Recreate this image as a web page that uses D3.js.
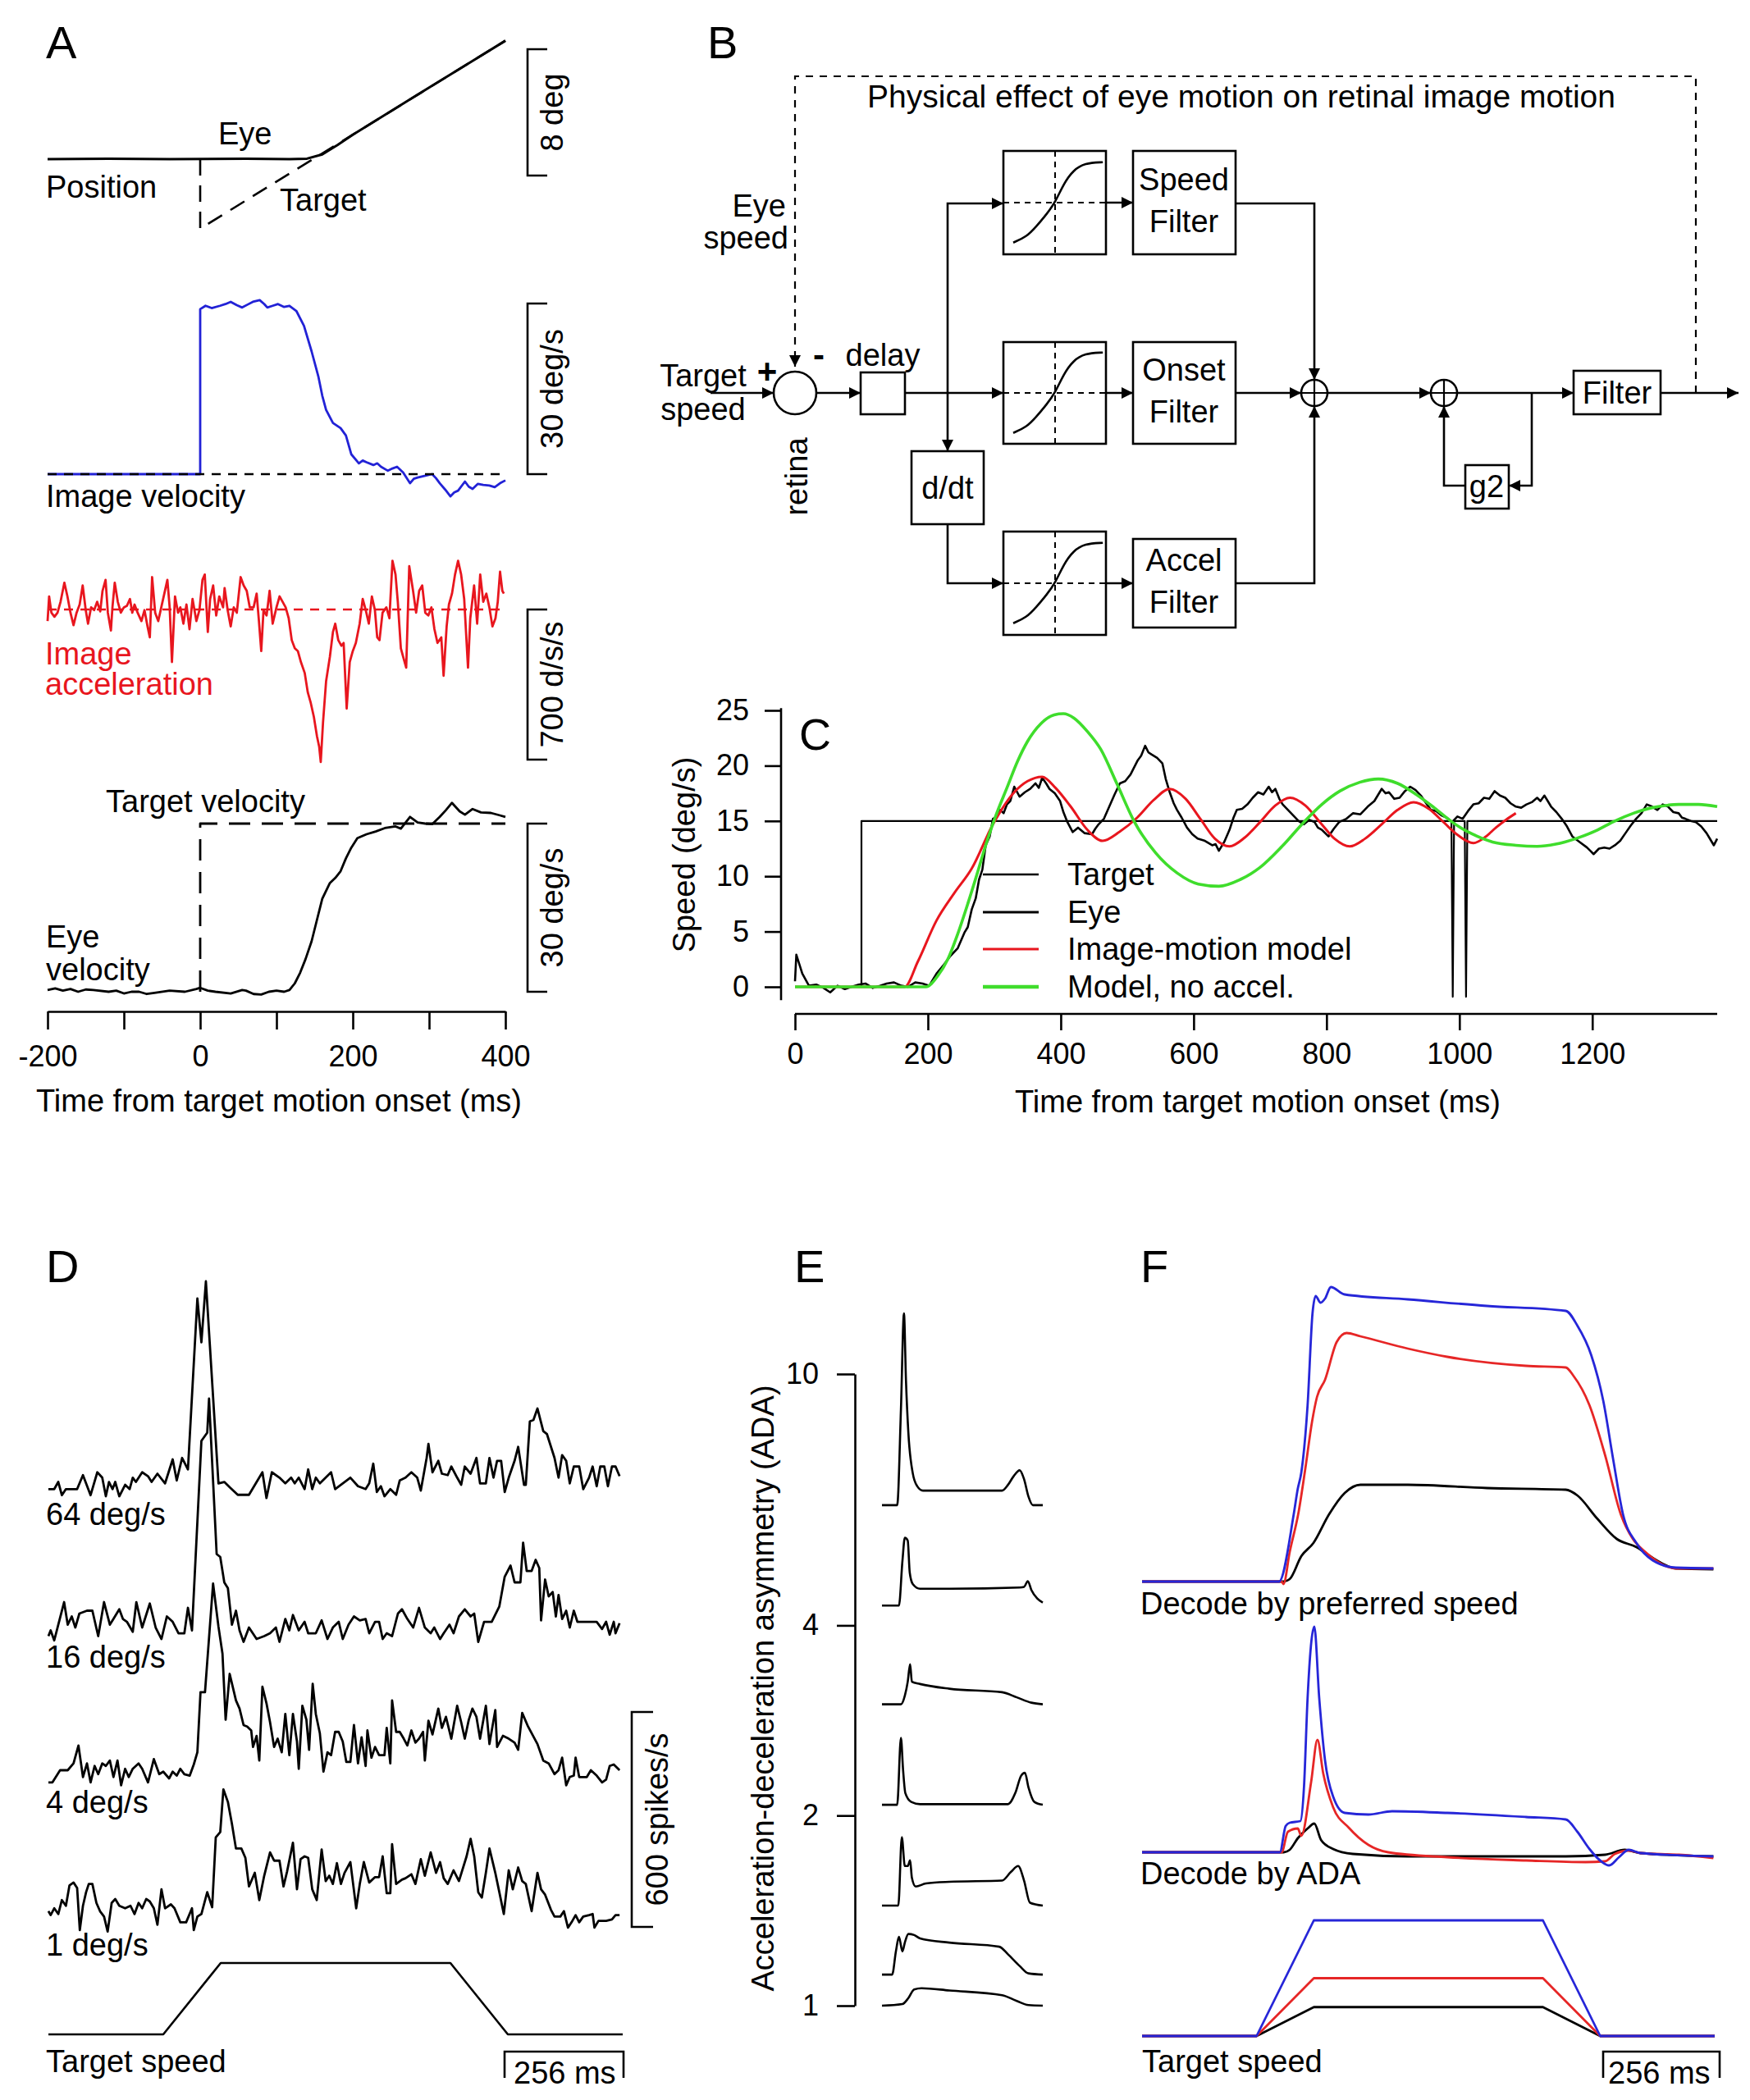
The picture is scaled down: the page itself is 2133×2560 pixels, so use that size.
<!DOCTYPE html>
<html><head><meta charset="utf-8">
<script src="https://cdn.jsdelivr.net/npm/d3@7"></script>
<style>
body{margin:0;background:#fff}
text{font-family:"Liberation Sans",Arial,Helvetica,sans-serif;fill:#000}
</style>
</head><body>
<script>
// ================= DATA =================
// Panel A (time in ms from target motion onset)
const aTicks = [-200,-100,0,100,200,300,400];
const aTickLabels = [-200,0,200,400];
const targetPosition = [[0,0],[0,-4.4],[400,7.5]];              // deg
const eyePosition = [[-200,0],[-120,0.03],[-40,0],[60,0.02],[117,0],[140,0.03],[160,0.3],[180,0.9],[200,1.55],[250,3.04],[300,4.53],[350,6.01],[400,7.5]];
const imageVelocity = [[-200,0],[0,0],[0,29.0],[7,29.6],[15,29.2],[26,29.6],[33,29.9],[40,30.3],[48,29.7],[55,29.3],[62,29.8],[69,30.3],[78,30.6],[84,29.9],[88,29.3],[95,29.6],[102,29.9],[110,29.4],[117,29.6],[126,28.7],[136,26.1],[146,21.6],[155,17.1],[160,13.8],[165,11.3],[174,9.0],[184,8.1],[191,6.8],[198,3.5],[208,1.9],[213,2.4],[218,2.1],[227,1.6],[232,1.9],[237,1.3],[246,0.6],[252,1.0],[258,1.3],[266,0.3],[275,-1.6],[280,-0.8],[285,-0.6],[294,-0.3],[304,0],[309,-0.7],[314,-1.6],[321,-2.7],[328,-3.9],[333,-3.2],[338,-2.9],[347,-1.3],[352,-2.2],[357,-2.6],[364,-1.7],[371,-1.9],[379,-2.0],[386,-2.3],[393,-1.6],[400,-1.1]];
const imageAcceleration = [[-200,-54],[-198,61],[-195,-15],[-191,-34],[-187,-15],[-183,36],[-178,125],[-174,61],[-170,-15],[-166,-73],[-162,-15],[-158,23],[-154,112],[-150,-3],[-147,-66],[-143,10],[-139,-3],[-135,36],[-131,-9],[-128,87],[-124,138],[-121,-15],[-117,-98],[-115,10],[-112,125],[-108,36],[-104,-15],[-100,10],[-96,17],[-92,49],[-89,-15],[-86,23],[-82,-15],[-77,-54],[-73,-3],[-69,-79],[-66,-130],[-63,151],[-59,-15],[-55,-54],[-51,10],[-47,74],[-43,138],[-40,10],[-37,-245],[-33,61],[-29,-15],[-26,10],[-22,-66],[-18,23],[-14,-92],[-10,49],[-5,-54],[-1,-3],[3,138],[6,163],[10,-105],[13,49],[17,112],[21,-28],[25,61],[30,10],[32,100],[36,-3],[40,-79],[44,10],[48,-15],[53,151],[57,112],[61,87],[65,10],[70,10],[74,74],[77,-54],[80,-194],[83,-3],[87,-28],[91,87],[95,-66],[100,10],[104,61],[108,36],[112,10],[116,-41],[120,-143],[124,-181],[128,-194],[132,-245],[137,-296],[141,-386],[145,-437],[149,-501],[153,-590],[156,-641],[158,-711],[161,-526],[165,-335],[170,-220],[174,-105],[177,-66],[181,-143],[185,-169],[188,-156],[192,-462],[196,-245],[200,-194],[204,-156],[209,-66],[213,49],[217,-3],[221,-66],[225,61],[229,-3],[232,-130],[235,-143],[239,-15],[244,10],[248,-41],[252,227],[256,163],[259,36],[263,-181],[266,-220],[270,-271],[274,202],[279,87],[283,-15],[287,87],[291,112],[295,-15],[299,-28],[303,10],[307,-92],[311,-156],[316,-130],[319,-309],[323,-79],[326,23],[330,74],[334,163],[338,227],[342,163],[346,49],[351,-271],[354,-41],[359,112],[363,-66],[367,163],[371,36],[375,74],[379,10],[383,-79],[387,-41],[390,36],[393,176],[396,87],[398,74]];
const targetVelocityA = [[0,0],[0,30],[400,30]];
const eyeVelocityA = [[-200,0.3],[-190,0.6],[-180,0.2],[-170,0.5],[-160,0],[-150,0.4],[-140,0.3],[-120,0],[-110,0.2],[-100,-0.3],[-90,0],[-80,0],[-70,-0.4],[-60,-0.2],[-40,0.2],[-20,0],[-5,0.5],[0,0.7],[10,0.2],[20,0],[40,-0.3],[55,0.3],[60,0.2],[70,-0.4],[80,-0.5],[90,0],[100,0.2],[110,0],[117,0.3],[124,1.5],[131,3.4],[138,5.8],[146,9.0],[153,12.8],[160,16.6],[170,19.4],[177,20.3],[184,21.5],[191,23.8],[198,25.7],[206,27.4],[218,28.1],[230,28.6],[242,29.2],[256,29.5],[263,29.1],[275,31.2],[285,30.2],[295,30.0],[304,29.9],[314,31.2],[322,32.4],[330,33.7],[340,32.2],[347,31.6],[357,32.6],[368,32.0],[381,31.9],[392,31.5],[400,31.2]];

// Panel C
const cXTicks = [0,200,400,600,800,1000,1200];
const cYTicks = [0,5,10,15,20,25];
const targetSpeedC = [[0,0],[100,0],[100,15],[988,15],[990,-0.9],[992,15],[1008,15],[1010,-0.9],[1012,15],[1388,15]];
const eyeSpeedC = [[0,0.5],[2,2.9],[11,1.2],[21,0.1],[32,0.2],[43,-0.1],[53,-0.5],[64,0.1],[75,-0.2],[85,0],[96,0.2],[106,0.3],[117,-0.1],[128,0.1],[138,0.3],[149,0.4],[160,0.1],[170,0],[181,0.4],[192,0.3],[202,0.1],[213,1.2],[224,2.0],[234,2.8],[245,3.5],[255,4.9],[260,5.4],[266,7.0],[272,8.0],[277,9.7],[282,10.6],[287,12.8],[293,13.6],[298,15.2],[304,15.4],[309,16.0],[314,15.7],[319,16.5],[324,16.8],[330,18.1],[338,17.2],[346,17.6],[354,17.9],[362,18.4],[367,18.0],[372,18.9],[378,18.4],[383,17.9],[391,17.5],[399,16.8],[404,15.8],[410,14.9],[418,14.0],[426,14.4],[436,13.9],[447,13.8],[452,14.3],[457,14.7],[465,15.2],[473,16.3],[481,17.4],[489,18.4],[497,18.6],[505,19.2],[510,19.8],[516,20.5],[521,20.9],[527,21.8],[532,21.2],[537,21.0],[545,20.7],[553,20.2],[558,18.8],[564,17.6],[570,16.6],[575,16.0],[582,15.3],[590,14.4],[598,13.8],[606,13.4],[617,13.2],[628,12.8],[633,12.9],[638,12.3],[646,13.1],[654,14.2],[660,15.3],[665,16.0],[673,16.1],[681,16.5],[689,17.1],[697,17.6],[705,17.4],[713,18.1],[718,17.6],[723,17.9],[729,17.0],[734,16.5],[742,16.0],[750,15.5],[758,15.0],[766,14.7],[774,15.1],[782,14.9],[787,14.4],[793,14.2],[798,13.9],[803,13.6],[811,14.3],[819,14.9],[830,15.2],[840,15.7],[851,15.6],[862,16.3],[872,16.8],[883,17.9],[889,17.5],[894,17.6],[902,17.0],[910,17.1],[918,17.7],[926,18.1],[934,17.8],[942,17.3],[950,16.6],[957,16.0],[965,15.9],[973,15.5],[981,15.3],[989,14.9],[997,15.4],[1005,15.2],[1013,15.9],[1021,16.5],[1029,16.6],[1037,17.1],[1045,17.0],[1053,17.7],[1061,17.3],[1069,17.1],[1077,16.6],[1085,16.3],[1093,16.2],[1101,16.5],[1109,16.7],[1117,17.1],[1122,16.8],[1128,17.3],[1133,16.8],[1138,16.3],[1146,15.8],[1154,15.2],[1162,14.5],[1170,13.6],[1181,13.1],[1192,12.6],[1197,12.3],[1202,12.0],[1210,12.5],[1218,12.6],[1226,12.5],[1234,12.8],[1242,13.2],[1250,13.9],[1258,14.6],[1266,15.2],[1274,15.7],[1282,16.5],[1290,16.3],[1298,16.0],[1306,16.5],[1314,16.3],[1322,15.8],[1330,15.7],[1335,15.3],[1340,15.2],[1348,15.0],[1356,14.9],[1364,14.5],[1372,13.9],[1378,13.3],[1383,12.8],[1388,13.4]];
const modelSpeedC = [[0,0],[165,0],[185,2.3],[213,6.0],[240,8.5],[266,10.7],[298,14.7],[330,17.6],[350,18.6],[372,19.0],[392,18.0],[415,16.3],[440,14.2],[463,13.2],[488,14.0],[515,15.3],[540,16.9],[564,17.9],[588,17.0],[610,15.2],[632,13.4],[654,12.7],[677,13.5],[700,14.9],[723,16.4],[745,17.1],[768,16.4],[790,14.9],[812,13.4],[835,12.7],[858,13.4],[883,14.7],[907,16.0],[931,16.7],[954,16.1],[976,14.9],[998,13.7],[1021,13.0],[1040,13.6],[1055,14.4],[1070,15.1],[1085,15.7]];
const modelNoAccelC = [[0,0],[197,0],[215,1.0],[230,2.5],[245,4.8],[260,7.5],[274,10.2],[287,12.8],[303,15.6],[319,18.0],[335,20.4],[350,22.2],[370,23.8],[390,24.6],[404,24.7],[420,24.3],[440,23.1],[460,21.5],[485,18.3],[511,14.9],[543,12.1],[575,10.3],[607,9.3],[638,9.1],[670,9.7],[700,10.8],[733,12.7],[766,14.9],[793,16.5],[820,17.7],[850,18.5],[878,18.8],[907,18.4],[935,17.4],[962,16.2],[989,14.9],[1020,13.8],[1050,13.1],[1085,12.8],[1117,12.7],[1145,12.9],[1175,13.4],[1205,14.1],[1234,15.0],[1262,15.7],[1290,16.2],[1310,16.4],[1330,16.5],[1360,16.5],[1388,16.3]];
const legendLabelsC = ["Target","Eye","Image-motion model","Model, no accel."];

// Panel D (firing rate, spikes/s) time in ms, 1280 ms epoch
const dSpeedLabels = ["64 deg/s","16 deg/s","4 deg/s","1 deg/s"];
const spikes64 = [[0,36],[13,36],[22,56],[30,19],[39,36],[64,36],[77,75],[94,19],[109,83],[120,68],[128,16],[135,56],[143,36],[149,56],[158,16],[171,48],[181,36],[188,68],[195,56],[209,83],[222,72],[230,56],[243,79],[260,52],[277,119],[286,60],[298,123],[311,91],[332,568],[341,446],[351,616],[379,52],[392,56],[405,40],[422,20],[447,20],[477,83],[486,11],[498,83],[515,68],[528,52],[541,68],[549,52],[558,68],[571,36],[579,91],[588,36],[596,68],[605,52],[618,68],[630,83],[639,36],[656,52],[673,68],[690,44],[707,36],[715,52],[724,107],[732,28],[741,44],[749,16],[762,36],[775,20],[783,60],[796,68],[809,83],[822,68],[830,32],[843,123],[847,162],[856,83],[869,115],[877,79],[890,75],[898,99],[911,68],[920,48],[928,99],[941,79],[954,123],[962,52],[975,52],[983,123],[992,68],[1000,115],[1009,115],[1017,28],[1026,68],[1039,115],[1047,154],[1060,48],[1064,48],[1073,225],[1081,229],[1090,261],[1103,198],[1111,190],[1128,123],[1137,68],[1145,131],[1154,115],[1162,52],[1171,99],[1183,99],[1192,36],[1205,68],[1213,99],[1222,44],[1230,99],[1239,99],[1247,44],[1256,99],[1264,99],[1273,72]];
const spikes16 = [[0,24],[5,40],[13,12],[22,56],[35,119],[43,56],[52,79],[60,48],[69,87],[86,95],[98,95],[111,24],[124,119],[137,56],[145,72],[158,99],[166,72],[175,64],[188,36],[196,119],[209,48],[226,115],[239,48],[252,16],[264,79],[277,64],[290,32],[303,32],[311,103],[320,40],[341,569],[354,592],[358,687],[375,253],[383,245],[392,174],[400,158],[409,56],[418,95],[426,40],[435,8],[447,48],[464,16],[481,24],[494,32],[507,48],[515,8],[528,72],[537,40],[545,83],[558,40],[571,64],[579,32],[596,32],[609,68],[622,16],[634,48],[647,64],[656,16],[669,56],[681,79],[694,68],[707,72],[715,32],[728,64],[737,64],[745,16],[754,32],[766,24],[779,87],[788,99],[800,72],[813,48],[826,103],[839,48],[852,32],[860,48],[873,16],[881,32],[894,56],[903,32],[915,79],[928,99],[941,79],[949,87],[958,8],[971,64],[988,64],[1005,107],[1017,190],[1030,221],[1039,174],[1052,174],[1058,285],[1066,206],[1077,206],[1086,237],[1094,214],[1098,68],[1107,182],[1115,135],[1124,147],[1131,79],[1137,139],[1145,72],[1154,95],[1162,48],[1171,95],[1179,64],[1209,64],[1222,64],[1234,44],[1243,64],[1251,28],[1260,64],[1264,32],[1273,60]];
const spikes4 = [[0,21],[9,21],[26,55],[43,55],[56,74],[67,124],[77,36],[86,74],[94,21],[103,67],[111,44],[120,74],[128,67],[137,82],[145,36],[154,82],[162,13],[171,59],[179,36],[188,59],[201,74],[209,59],[222,21],[235,86],[247,44],[256,51],[269,32],[277,51],[286,40],[294,59],[303,44],[315,40],[324,71],[332,105],[339,273],[349,273],[367,576],[379,456],[388,380],[395,196],[404,324],[418,250],[426,227],[435,181],[443,177],[452,166],[456,120],[464,151],[470,82],[477,288],[486,242],[494,189],[503,120],[511,143],[520,105],[528,212],[537,97],[545,212],[554,135],[558,59],[566,235],[575,196],[581,112],[589,296],[596,212],[605,158],[613,51],[622,105],[630,97],[639,162],[647,162],[656,135],[664,78],[673,78],[681,181],[690,74],[698,147],[707,67],[711,166],[720,90],[728,120],[737,97],[749,97],[754,173],[762,74],[766,250],[775,162],[783,162],[792,143],[800,124],[809,166],[818,132],[826,143],[835,162],[839,82],[847,193],[856,155],[869,227],[877,173],[886,204],[898,143],[911,235],[920,189],[928,143],[937,196],[945,227],[954,204],[962,143],[975,235],[983,128],[996,223],[1000,120],[1013,151],[1026,143],[1039,132],[1047,112],[1056,215],[1069,177],[1090,128],[1103,82],[1115,74],[1128,44],[1137,55],[1145,90],[1154,13],[1162,36],[1171,40],[1175,90],[1183,36],[1200,36],[1209,55],[1222,40],[1234,21],[1243,29],[1251,67],[1260,71],[1273,55]];
const spikes1 = [[0,60],[5,49],[13,68],[22,52],[30,91],[39,75],[47,132],[56,140],[64,125],[70,7],[77,75],[84,113],[90,136],[98,136],[107,83],[115,60],[124,45],[132,3],[141,83],[149,94],[158,75],[171,68],[183,75],[192,52],[201,83],[209,68],[218,94],[226,87],[235,68],[243,22],[252,121],[260,68],[273,79],[281,68],[294,29],[307,29],[320,68],[324,7],[332,45],[341,52],[354,113],[365,71],[373,266],[383,281],[390,400],[400,365],[409,304],[418,235],[430,235],[439,209],[447,129],[460,167],[470,91],[481,159],[494,224],[503,201],[515,201],[524,129],[532,171],[545,251],[554,121],[562,205],[571,213],[579,209],[588,121],[598,91],[609,232],[618,144],[626,159],[634,136],[643,194],[652,136],[660,167],[673,197],[686,68],[694,136],[703,197],[715,140],[728,155],[737,155],[745,213],[754,110],[762,110],[766,247],[775,136],[788,148],[796,152],[809,163],[818,136],[830,205],[839,159],[852,224],[864,167],[873,197],[881,152],[890,136],[903,174],[915,144],[932,213],[941,262],[949,213],[958,113],[966,98],[975,167],[983,235],[996,167],[1005,113],[1015,52],[1026,174],[1035,121],[1047,182],[1056,144],[1064,136],[1077,60],[1090,167],[1098,121],[1107,106],[1120,64],[1128,45],[1141,45],[1149,60],[1158,14],[1166,29],[1175,49],[1183,29],[1192,45],[1205,49],[1213,52],[1217,14],[1226,33],[1243,33],[1256,37],[1264,49],[1273,49]];
const targetTimes = [0,256,384,896,1024,1280];
const targetShape = [0,0,1,1,0,0];

// Panel E (ADA of each example neuron, and its normalized response)
const eTicks = [1,2,4,10];
const adaValues = [6.2,4.3,3.0,2.08,1.44,1.12,1.0];
const adaResp1 = [[0,0],[121,0],[151,46.7],[175,93.5],[191,60.9],[210,35.4],[245,15.6],[280,9.3],[326,7.1],[956,7.1],[1003,9.9],[1049,14.2],[1096,17.0],[1131,12.7],[1166,4.2],[1201,0],[1280,0]];
const adaResp2 = [[0,0],[135,0],[163,21.8],[182,33.1],[205,31.7],[221,16.1],[245,10.5],[303,8.2],[536,8.2],[1096,8.8],[1131,9.1],[1161,11.9],[1189,7.6],[1236,3.4],[1280,1.4]];
const adaResp3 = [[0,0],[151,0],[182,4.2],[205,11.0],[224,19.5],[238,11.0],[303,9.9],[536,7.6],[956,5.9],[1073,3.4],[1189,0.8],[1280,0]];
const adaResp4 = [[0,0],[121,0],[151,32.6],[168,17.0],[186,5.7],[233,1.4],[303,0.3],[1003,0.3],[1061,5.7],[1108,14.2],[1138,15.6],[1166,8.5],[1213,1.4],[1280,0]];
const adaResp5 = [[0,0],[130,0],[158,33.4],[182,19.3],[205,19.3],[224,22.1],[238,13.6],[268,9.3],[350,10.8],[536,11.6],[956,12.2],[1026,16.4],[1084,19.3],[1131,12.2],[1178,1.4],[1280,0]];
const adaResp6 = [[0,0],[81,0],[111,11.3],[135,18.4],[163,11.3],[182,15.6],[210,19.8],[256,19.3],[303,17.6],[536,15.6],[933,13.6],[1003,9.9],[1096,4.2],[1166,0.6],[1280,0]];
const adaResp7 = [[0,0],[163,0.8],[210,3.7],[256,7.9],[315,8.5],[536,7.4],[956,5.1],[1073,2.3],[1166,0.3],[1280,0]];

// Panel F (decoded speed, a.u.)
const fTargetSpeeds = [32,16,8];  // blue, red, black
const decodePrefBlue = [[0,0],[306,0],[339,8.2],[348,11.3],[356,13.3],[370,21.5],[381,32.7],[388,34.8],[399,34.0],[409,34.5],[422,35.9],[453,35.0],[594,34.4],[771,33.6],[947,33.0],[973,31.2],[1004,27.6],[1031,22.0],[1053,14.9],[1075,8.2],[1105,4.7],[1141,2.6],[1193,1.7],[1277,1.6]];
const decodePrefRed = [[0,0],[312,0],[316,-0.3],[330,3.6],[350,8.5],[365,13.8],[380,19.5],[391,22.5],[409,24.6],[435,29.2],[457,30.3],[488,29.9],[594,28.4],[682,27.4],[858,26.3],[947,26.1],[964,25.1],[1000,21.5],[1035,15.4],[1070,8.2],[1097,5.2],[1123,3.7],[1193,1.6],[1277,1.6]];
const decodePrefBlack = [[0,0],[316,0],[330,0.3],[356,3.1],[383,4.7],[418,8.2],[453,10.8],[488,11.8],[594,11.8],[771,11.4],[947,11.2],[973,10.5],[1017,7.7],[1061,5.2],[1105,4.2],[1141,2.9],[1193,1.6],[1277,1.5]];
const decodeAdaBlue = [[0,0],[308,0],[321,3.2],[330,3.6],[354,3.8],[362,8],[370,18.8],[385,27.5],[396,18.8],[409,11.2],[427,6.8],[453,4.8],[506,4.6],[559,5.0],[682,4.8],[858,4.3],[947,4.0],[973,2.5],[1000,0.4],[1026,-1.1],[1044,-1.6],[1066,-0.6],[1088,0.3],[1114,-0.1],[1277,-0.5]];
const decodeAdaRed = [[0,0],[312,0],[326,2.5],[348,2.9],[356,2.0],[378,8.6],[392,13.7],[405,9.6],[427,5.5],[462,3.0],[506,0.9],[550,0],[682,-0.6],[858,-1.0],[991,-1.2],[1035,-1.1],[1057,-0.2],[1088,0.2],[1114,-0.1],[1200,-0.3],[1277,-0.7]];
const decodeAdaBlack = [[0,0],[317,0],[330,0.3],[348,1.7],[370,2.9],[385,3.5],[400,1.5],[427,0.4],[471,-0.2],[594,-0.5],[947,-0.5],[1035,-0.3],[1079,0.3],[1114,-0.1],[1277,-0.5]];

// Panel B schematic sigmoid icon shape (normalized)
const sigmoidShape = [[-0.85,-0.84],[-0.58,-0.72],[-0.38,-0.5],[-0.17,-0.24],[0,0],[0.18,0.41],[0.37,0.68],[0.6,0.83],[0.97,0.85]];

// ================= DRAWING =================
const W = 2133, H = 2560;
const FONT = 38, TICKF = 36, LETTER = 56;
const BLUE = "#2222d6", RED = "#e8161e", GREEN = "#3fdd2c";
const svg = d3.select("body").append("svg").attr("width", W).attr("height", H)
  .style("background", "#fff");

function txt(g, x, y, s, opt = {}) {
  return g.append("text").attr("x", x).attr("y", y).attr("font-size", opt.size || FONT)
    .attr("text-anchor", opt.anchor || "start").style("fill", opt.color || "#000").text(s);
}
function vtxt(g, x, y, s, size) {
  return g.append("text").attr("transform", `translate(${x},${y}) rotate(-90)`)
    .attr("text-anchor", "middle").attr("dominant-baseline", "central")
    .attr("font-size", size || FONT).text(s);
}
function trace(g, data, xs, ys, opt = {}) {
  return g.append("path").datum(data)
    .attr("d", d3.line().x(d => xs(d[0])).y(d => ys(d[1])).curve(opt.curve || d3.curveLinear))
    .attr("fill", "none").attr("stroke", opt.color || "#000").attr("stroke-width", opt.w || 2.6)
    .attr("stroke-dasharray", opt.dash || null).attr("stroke-linejoin", "round");
}
function bracketRight(g, x, yTop, yBot, tick) {
  g.append("path").attr("d", `M${x + tick},${yTop}H${x}V${yBot}H${x + tick}`)
    .attr("fill", "none").attr("stroke", "#000").attr("stroke-width", 2.6);
}
function bracketTop(g, x0, x1, y, tick) {
  g.append("path").attr("d", `M${x0},${y + tick}V${y}H${x1}V${y + tick}`)
    .attr("fill", "none").attr("stroke", "#000").attr("stroke-width", 2.6);
}

// ---------- Panel A ----------
const gA = svg.append("g");
txt(gA, 56, 71, "A", { size: LETTER });
const xA = d3.scaleLinear().domain([-200, 400]).range([58, 616]);
const yPos = d3.scaleLinear().domain([0, 8]).range([194, 40]);
const yImgV = d3.scaleLinear().domain([0, 30]).range([578, 370]);
const yAcc = d3.scaleLinear().domain([0, 700]).range([743, 560]);
const yEyeV = d3.scaleLinear().domain([0, 30]).range([1209, 1004]);

// position
trace(gA, targetPosition, xA, yPos, { dash: "20,12", w: 2.6 });
trace(gA, eyePosition, xA, yPos, { w: 3 });
txt(gA, 266, 176, "Eye");
txt(gA, 341, 257, "Target");
txt(gA, 56, 241, "Position");
bracketRight(gA, 643, yPos(6.96), yPos(-1.04), 24);
vtxt(gA, 673, (yPos(6.96) + yPos(-1.04)) / 2, "8 deg");

// image velocity
trace(gA, imageVelocity, xA, yImgV, { color: BLUE, w: 2.8 });
trace(gA, [[-200, 0], [400, 0]], xA, yImgV, { dash: "11,9", w: 2.6 });
txt(gA, 56, 618, "Image velocity");
bracketRight(gA, 643, yImgV(30), yImgV(0), 24);
vtxt(gA, 673, (yImgV(30) + yImgV(0)) / 2, "30 deg/s");

// image acceleration
trace(gA, [[-200, 0], [400, 0]], xA, yAcc, { dash: "11,9", color: RED, w: 2.4 });
trace(gA, imageAcceleration, xA, yAcc, { color: RED, w: 2.8 });
txt(gA, 55, 810, "Image", { color: RED });
txt(gA, 55, 847, "acceleration", { color: RED });
bracketRight(gA, 643, yAcc(0), yAcc(-700), 24);
vtxt(gA, 673, (yAcc(0) + yAcc(-700)) / 2, "700 d/s/s");

// eye velocity
trace(gA, targetVelocityA, xA, yEyeV, { dash: "26,14", w: 2.8 });
trace(gA, eyeVelocityA, xA, yEyeV, { w: 2.8 });
txt(gA, 129, 990, "Target velocity");
txt(gA, 56, 1155, "Eye");
txt(gA, 56, 1195, "velocity");
bracketRight(gA, 643, yEyeV(30), yEyeV(0), 24);
vtxt(gA, 673, (yEyeV(30) + yEyeV(0)) / 2, "30 deg/s");

// axis
const axA = gA.append("g").attr("transform", "translate(0,1233)")
  .call(d3.axisBottom(xA).tickValues(aTicks).tickSize(22).tickSizeOuter(0)
    .tickFormat(d => aTickLabels.includes(d) ? String(d) : ""));
axA.selectAll("path,line").attr("stroke", "#000").attr("stroke-width", 2.6);
axA.selectAll("text").attr("font-size", TICKF).attr("font-family", '"Liberation Sans",Arial,sans-serif')
  .attr("dy", "0").attr("y", 67).style("fill", "#000");
txt(gA, 340, 1355, "Time from target motion onset (ms)", { anchor: "middle" });

// ---------- Panel B ----------
const gB = svg.append("g");
txt(gB, 862, 71, "B", { size: LETTER });
const defs = svg.append("defs");
defs.append("marker").attr("id", "arr").attr("viewBox", "0 0 10 10").attr("refX", 10).attr("refY", 5)
  .attr("markerUnits", "userSpaceOnUse").attr("markerWidth", 17).attr("markerHeight", 14).attr("orient", "auto")
  .append("path").attr("d", "M0,0L10,5L0,10z").attr("fill", "#000");
const BW = 2.6;
function bpath(d, opt = {}) {
  const p = gB.append("path").attr("d", d).attr("fill", "none").attr("stroke", "#000")
    .attr("stroke-width", opt.w || BW);
  if (opt.dash) p.attr("stroke-dasharray", opt.dash);
  if (opt.arrow !== false) p.attr("marker-end", "url(#arr)");
  return p;
}
function brect(x, y, w, h) {
  gB.append("rect").attr("x", x).attr("y", y).attr("width", w).attr("height", h)
    .attr("fill", "#fff").attr("stroke", "#000").attr("stroke-width", BW);
}
// feedback dashed loop
bpath("M2067,479V93H969V447", { dash: "9,8", w: 2.2 });
txt(gB, 1513, 131, "Physical effect of eye motion on retinal image motion", { anchor: "middle", size: 39 });
txt(gB, 958, 264, "Eye", { anchor: "end" });
txt(gB, 961, 303, "speed", { anchor: "end" });
// input
bpath("M866,479H943");
txt(gB, 857, 471, "Target", { anchor: "middle" });
txt(gB, 857, 512, "speed", { anchor: "middle" });
gB.append("circle").attr("cx", 969).attr("cy", 479).attr("r", 26).attr("fill", "#fff").attr("stroke", "#000").attr("stroke-width", BW);
txt(gB, 935, 467, "+", { anchor: "middle", size: 42 }).attr("font-weight", "bold");
txt(gB, 998, 447, "-", { anchor: "middle", size: 42 }).attr("font-weight", "bold");
vtxt(gB, 971, 581, "retina");
bpath("M995,479H1049");
brect(1049, 454, 54, 51);
txt(gB, 1076, 446, "delay", { anchor: "middle" });
bpath("M1103,479H1223");
bpath("M1155,479V248H1223");
bpath("M1155,479V550");
brect(1111, 550, 88, 89);
txt(gB, 1155, 608, "d/dt", { anchor: "middle" });
bpath("M1155,639V711H1223");
// sigmoid + filter rows
const rowsB = [
  { cy: 247, sy: 184, sh: 126, fy: 184, fh: 126, l1: "Speed", l2: "Filter" },
  { cy: 479, sy: 417, sh: 124, fy: 417, fh: 124, l1: "Onset", l2: "Filter" },
  { cy: 711, sy: 648, sh: 126, fy: 657, fh: 108, l1: "Accel", l2: "Filter" }
];
const sigX = d3.scaleLinear().domain([-1, 1]).range([-60, 60]);
const sigY = d3.scaleLinear().domain([-1, 1]).range([58, -58]);
rowsB.forEach(r => {
  brect(1223, r.sy, 125, r.sh);
  const cx = 1286;
  bpath(`M1223,${r.cy}H1348`, { dash: "7,6", w: 2, arrow: false });
  bpath(`M${cx},${r.sy}V${r.sy + r.sh}`, { dash: "7,6", w: 2, arrow: false });
  gB.append("path").datum(sigmoidShape)
    .attr("d", d3.line().x(d => cx + sigX(d[0])).y(d => r.cy + sigY(d[1])).curve(d3.curveBasis))
    .attr("fill", "none").attr("stroke", "#000").attr("stroke-width", 2.6);
  bpath(`M1348,${r.cy}H1381`);
  brect(1381, r.fy, 125, r.fh);
  txt(gB, 1443, r.cy - 15, r.l1, { anchor: "middle" });
  txt(gB, 1443, r.cy + 36, r.l2, { anchor: "middle" });
});
bpath("M1506,248H1602V463");
bpath("M1506,479H1586");
bpath("M1506,711H1602V495");
function sumNode(cx, cy) {
  gB.append("circle").attr("cx", cx).attr("cy", cy).attr("r", 16).attr("fill", "#fff").attr("stroke", "#000").attr("stroke-width", BW);
  bpath(`M${cx - 16},${cy}H${cx + 16}M${cx},${cy - 16}V${cy + 16}`, { arrow: false, w: 2.2 });
}
sumNode(1602, 479);
bpath("M1618,479H1744");
sumNode(1760, 479);
bpath("M1776,479H1918");
bpath("M1867,479V592H1839");
brect(1786, 567, 53, 53);
txt(gB, 1812, 606, "g2", { anchor: "middle" });
bpath("M1786,592H1760V495");
brect(1918, 452, 106, 53);
txt(gB, 1971, 492, "Filter", { anchor: "middle" });
bpath("M2024,479H2119");

// ---------- Panel C ----------
const gC = svg.append("g");
const xC = d3.scaleLinear().domain([0, 1388]).range([969, 2093]);
const yC = d3.scaleLinear().domain([0, 25]).range([1203, 866]);
txt(gC, 974, 914, "C", { size: 54 });
const axCy = gC.append("g").attr("transform", "translate(952,0)")
  .call(d3.axisLeft(yC).tickValues(cYTicks).tickSize(20).tickSizeOuter(0).tickFormat(d3.format("d")));
axCy.select(".domain").remove();
gC.append("line").attr("x1", 952).attr("x2", 952).attr("y1", yC(25.2)).attr("y2", yC(-1.2)).attr("stroke", "#000").attr("stroke-width", 2.6);
axCy.selectAll("line").attr("stroke", "#000").attr("stroke-width", 2.6);
axCy.selectAll("text").attr("font-size", TICKF).attr("font-family", '"Liberation Sans",Arial,sans-serif').attr("x", -39).style("fill", "#000");
const axCx = gC.append("g").attr("transform", "translate(0,1236)")
  .call(d3.axisBottom(xC).tickValues(cXTicks).tickSize(20).tickSizeOuter(0).tickFormat(d3.format("d")));
axCx.select(".domain").remove();
gC.append("line").attr("x1", xC(0)).attr("x2", xC(1388)).attr("y1", 1236).attr("y2", 1236).attr("stroke", "#000").attr("stroke-width", 2.6);
axCx.selectAll("line").attr("stroke", "#000").attr("stroke-width", 2.6);
axCx.selectAll("text").attr("font-size", TICKF).attr("font-family", '"Liberation Sans",Arial,sans-serif').attr("dy", 0).attr("y", 61).style("fill", "#000");
txt(gC, 1533, 1356, "Time from target motion onset (ms)", { anchor: "middle" });
vtxt(gC, 834, 1042, "Speed (deg/s)");
trace(gC, targetSpeedC, xC, yC, { w: 2.2 });
trace(gC, eyeSpeedC, xC, yC, { w: 2.6 });
trace(gC, modelSpeedC, xC, yC, { color: RED, w: 3, curve: d3.curveMonotoneX });
trace(gC, modelNoAccelC, xC, yC, { color: GREEN, w: 3.6, curve: d3.curveMonotoneX });
const legRows = [1066, 1112, 1157, 1203];
const legStyles = [{ c: "#000", w: 2.4 }, { c: "#000", w: 2.8 }, { c: RED, w: 3.2 }, { c: GREEN, w: 4.5 }];
legendLabelsC.forEach((lab, i) => {
  gC.append("line").attr("x1", 1198).attr("x2", 1266).attr("y1", legRows[i]).attr("y2", legRows[i])
    .attr("stroke", legStyles[i].c).attr("stroke-width", legStyles[i].w);
  txt(gC, 1301, legRows[i] + 13, lab);
});

// ---------- Panel D ----------
const gD = svg.append("g");
txt(gD, 56, 1563, "D", { size: LETTER });
const xD = d3.scaleLinear().domain([0, 1280]).range([59, 759]);
const dZero = [1831, 2005, 2182, 2356];
const dLabelY = [1859, 2033, 2210, 2384];
const dTraces = [spikes64, spikes16, spikes4, spikes1];
dTraces.forEach((tr, i) => {
  const yr = d3.scaleLinear().domain([0, 600]).range([dZero[i], dZero[i] - 262]);
  trace(gD, tr, xD, yr, { w: 2.8 });
  txt(gD, 56, dLabelY[i], dSpeedLabels[i]);
});
const yTD = d3.scaleLinear().domain([0, 1]).range([2480, 2393]);
trace(gD, targetTimes.map((t, i) => [t, targetShape[i]]), xD, yTD, { w: 2.6 });
txt(gD, 56, 2526, "Target speed");
bracketRight(gD, 770, 2087, 2349, 26);
vtxt(gD, 801, 2218, "600 spikes/s");
bracketTop(gD, xD(1024) - 4, xD(1280) + 1, 2501, 32);
txt(gD, 626, 2540, "256 ms");

// ---------- Panel E ----------
const gE = svg.append("g");
txt(gE, 968, 1563, "E", { size: LETTER });
const yE = d3.scaleLog().domain([1, 10]).range([2445, 1675]);
const xE = d3.scaleLinear().domain([0, 1280]).range([1075, 1271]);
const respE = d3.scaleLinear().domain([0, 100]).range([0, 250]);
const axE = gE.append("g").attr("transform", "translate(1042,0)")
  .call(d3.axisLeft(yE).tickValues(eTicks).tickSize(22).tickSizeOuter(0).tickFormat(d3.format("d")));
axE.selectAll("path,line").attr("stroke", "#000").attr("stroke-width", 2.6);
axE.selectAll("text").attr("font-size", TICKF).attr("font-family", '"Liberation Sans",Arial,sans-serif').attr("x", -44).style("fill", "#000");
vtxt(gE, 930, 2058, "Acceleration-deceleration asymmetry (ADA)");
const adaResps = [adaResp1, adaResp2, adaResp3, adaResp4, adaResp5, adaResp6, adaResp7];
adaResps.forEach((tr, i) => {
  const base = yE(adaValues[i]);
  trace(gE, tr, xE, v => base - respE(v), { w: 2.6, curve: d3.curveMonotoneX });
});

// ---------- Panel F ----------
const gF = svg.append("g");
txt(gF, 1390, 1563, "F", { size: LETTER });
const xF = d3.scaleLinear().domain([0, 1280]).range([1392, 2090]);
const yDecPref = d3.scaleLinear().domain([0, 10]).range([1928, 1828]);
const yDecAda = d3.scaleLinear().domain([0, 10]).range([2258, 2158]);
const yTF = d3.scaleLinear().domain([0, 32]).range([2482, 2341]);
const FBLUE = "#2626d8", FRED = "#e62626";
trace(gF, decodePrefBlack, xF, yDecPref, { w: 2.8, curve: d3.curveMonotoneX });
trace(gF, decodePrefRed, xF, yDecPref, { color: FRED, w: 2.8, curve: d3.curveMonotoneX });
trace(gF, decodePrefBlue, xF, yDecPref, { color: FBLUE, w: 2.8, curve: d3.curveMonotoneX });
txt(gF, 1390, 1968, "Decode by preferred speed");
trace(gF, decodeAdaBlack, xF, yDecAda, { w: 2.8, curve: d3.curveMonotoneX });
trace(gF, decodeAdaRed, xF, yDecAda, { color: FRED, w: 2.8, curve: d3.curveMonotoneX });
trace(gF, decodeAdaBlue, xF, yDecAda, { color: FBLUE, w: 2.8, curve: d3.curveMonotoneX });
txt(gF, 1390, 2297, "Decode by ADA");
const fColors = [FBLUE, FRED, "#000"];
fTargetSpeeds.slice().reverse().forEach((sp, j) => {
  const i = fTargetSpeeds.length - 1 - j;
  trace(gF, targetTimes.map((t, k) => [t, targetShape[k] * sp]), xF, yTF, { color: fColors[i], w: 2.8 });
});
txt(gF, 1392, 2526, "Target speed");
bracketTop(gF, 1954, 2096, 2501, 32);
txt(gF, 1960, 2540, "256 ms");
</script>
</body></html>
